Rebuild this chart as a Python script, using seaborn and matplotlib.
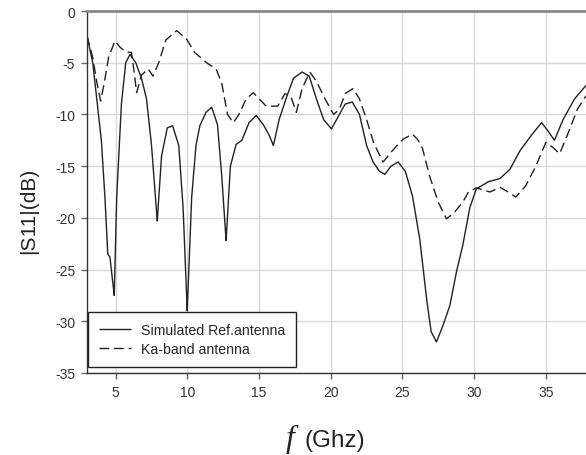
import numpy as np
import pandas as pd
import matplotlib
matplotlib.use("Agg")
import matplotlib.pyplot as plt
import seaborn as sns

# Simulated Ref.antenna
ref_f = [3.0, 3.4, 3.68, 4.0, 4.25, 4.45, 4.6, 4.9, 5.07, 5.4, 5.7, 6.0, 6.4, 6.8, 7.15, 7.5, 7.9,
         8.2, 8.6, 8.97, 9.4, 9.7, 9.99, 10.3, 10.6, 10.87, 11.3, 11.7, 12.1, 12.4, 12.7, 13.0,
         13.4, 13.8, 14.3, 14.8, 15.3, 15.7, 16.0, 16.4, 16.9, 17.4, 18.0, 18.5, 19.0, 19.5,
         20.05, 20.6, 21.0, 21.5, 22.0, 22.5, 22.95, 23.4, 23.77, 24.2, 24.7, 25.2, 25.7, 26.2,
         26.7, 27.0, 27.37, 27.8, 28.3, 28.8, 29.2, 29.7, 30.15, 31.0, 31.8, 32.5, 33.2, 34.0,
         34.7, 35.1, 35.6, 36.2, 37.0, 37.8]
ref_s11 = [-2.4, -5.0, -8.5, -12.5, -18.0, -23.5, -23.8, -27.5, -18.0, -9.0, -5.0, -4.2, -5.0,
           -6.5, -8.5, -13.0, -20.3, -14.0, -11.3, -11.1, -13.0, -19.0, -29.0, -18.0, -13.0,
           -11.1, -9.8, -9.3, -11.0, -16.0, -22.2, -15.0, -12.9, -12.5, -10.8, -10.1, -11.0,
           -12.0, -13.0, -10.5, -8.4, -6.5, -5.9, -6.3, -8.5, -10.5, -11.4, -10.0, -9.0, -8.8,
           -10.0, -13.0, -14.6, -15.5, -15.8, -15.0, -14.6, -15.5, -17.9, -22.0, -28.0, -31.0,
           -32.0, -30.5, -28.5, -25.0, -22.7, -19.0, -17.2, -16.5, -16.2, -15.3, -13.5, -12.0,
           -10.8, -11.5, -12.5, -10.5, -8.5, -7.2]

# Ka-band antenna
ka_f = [3.0, 3.4, 3.7, 3.95, 4.2, 4.5, 4.95, 5.3, 5.77, 6.1, 6.3, 6.46, 6.8, 7.27, 7.6, 8.0, 8.5,
        9.25, 9.94, 10.5, 11.34, 12.0, 12.4, 12.8, 13.2, 13.6, 14.1, 14.6, 15.0, 15.5, 16.3,
        16.8, 17.2, 17.6, 18.0, 18.54, 19.0, 19.6, 20.2, 20.6, 21.0, 21.55, 22.0, 22.5, 23.0,
        23.65, 24.3, 25.04, 25.7, 26.1, 26.4, 26.9, 27.5, 28.07, 28.6, 29.2, 29.6, 30.15, 31.1,
        31.8, 32.5, 32.9, 33.6, 34.3, 35.0, 35.5, 35.96, 36.5, 37.2, 37.8]
ka_s11 = [-2.4, -4.5, -7.0, -8.7, -7.0, -4.5, -2.9, -3.5, -4.0, -4.0, -6.0, -7.9, -6.2, -5.6,
          -6.3, -5.0, -2.8, -1.9, -2.7, -4.0, -5.0, -5.6, -7.0, -10.0, -10.8, -10.0, -8.5, -7.9,
          -8.5, -9.2, -9.2, -8.0, -8.2, -9.8, -7.5, -5.9, -6.8, -8.5, -10.0, -9.5, -8.0, -7.5,
          -8.5, -10.5, -12.8, -14.6, -13.5, -12.4, -11.9, -12.5, -13.3, -16.0, -18.5, -20.1,
          -19.5, -18.5, -17.5, -17.1, -17.5, -17.05, -17.6, -18.0, -16.9, -15.0, -12.7, -13.2,
          -13.8, -12.0, -9.5, -8.2]

x_ticks = [5, 10, 15, 20, 25, 30, 35]
y_ticks = [0, -5, -10, -15, -20, -25, -30, -35]
series_names = ["Simulated Ref.antenna", "Ka-band antenna"]

df = pd.concat([
    pd.DataFrame({"f": ref_f, "s11": ref_s11, "series": series_names[0]}),
    pd.DataFrame({"f": ka_f, "s11": ka_s11, "series": series_names[1]}),
], ignore_index=True)

sns.set_theme(style="whitegrid")
plt.rcParams["font.family"] = ["Liberation Sans", "DejaVu Sans"]
plt.rcParams["axes.unicode_minus"] = False
plt.rcParams["xtick.bottom"] = True
plt.rcParams["ytick.left"] = True

fig = plt.figure(figsize=(5.86, 4.56), dpi=100)
ax = fig.add_axes([87 / 586, 1 - 374 / 456, 1 - 87 / 586, (374 - 12) / 456])

sns.lineplot(data=df, x="f", y="s11", hue="series", style="series",
             palette=["#222222", "#222222"], dashes=[(1, 0), (7, 3.5)],
             linewidth=1.0, sort=False, estimator=None, ax=ax, legend=True)

ax.set_xlim(3, 37.8)
ax.set_ylim(-35, 0)
ax.set_xticks(x_ticks)
ax.set_yticks(y_ticks)
ax.tick_params(axis="both", which="major", bottom=True, left=True, labelsize=10,
               labelcolor="#333333", color="#666666", length=4, width=1.0,
               direction="out")
ax.tick_params(axis="x", pad=5)
ax.tick_params(axis="y", pad=4.5)
ax.grid(True, color="#d9d9d9", linewidth=1.0)
for side in ["left", "bottom"]:
    ax.spines[side].set_color("#333333")
    ax.spines[side].set_linewidth(1.0)
ax.spines["top"].set_color("#888888")
ax.spines["top"].set_linewidth(2.0)
ax.spines["right"].set_visible(False)

ax.set_xlabel("")
ax.set_ylabel("")
fig.text(29 / 586, 1 - 211 / 456, "|S11|(dB)", fontsize=15, rotation=90,
         ha="center", va="center", color="#222222")

fig.text(290 / 586, 1 - 439 / 456, "f", family="Liberation Serif", style="italic",
         fontsize=23, ha="center", va="center", color="#222222")
fig.text(335 / 586, 1 - 441 / 456, "(Ghz)", fontsize=17.5, ha="center", va="center",
         color="#222222")

leg = ax.legend(loc="lower left", bbox_to_anchor=(1 / 499, 6 / 362), fontsize=10.2,
                frameon=True, fancybox=False, handlelength=2.3, handletextpad=0.7,
                borderpad=0.75, labelspacing=0.4, borderaxespad=0.0)
leg.get_frame().set_edgecolor("#222222")
leg.get_frame().set_linewidth(1.0)
leg.get_frame().set_alpha(1.0)
leg.set_title(None)

fig.savefig("out.png", dpi=100)
